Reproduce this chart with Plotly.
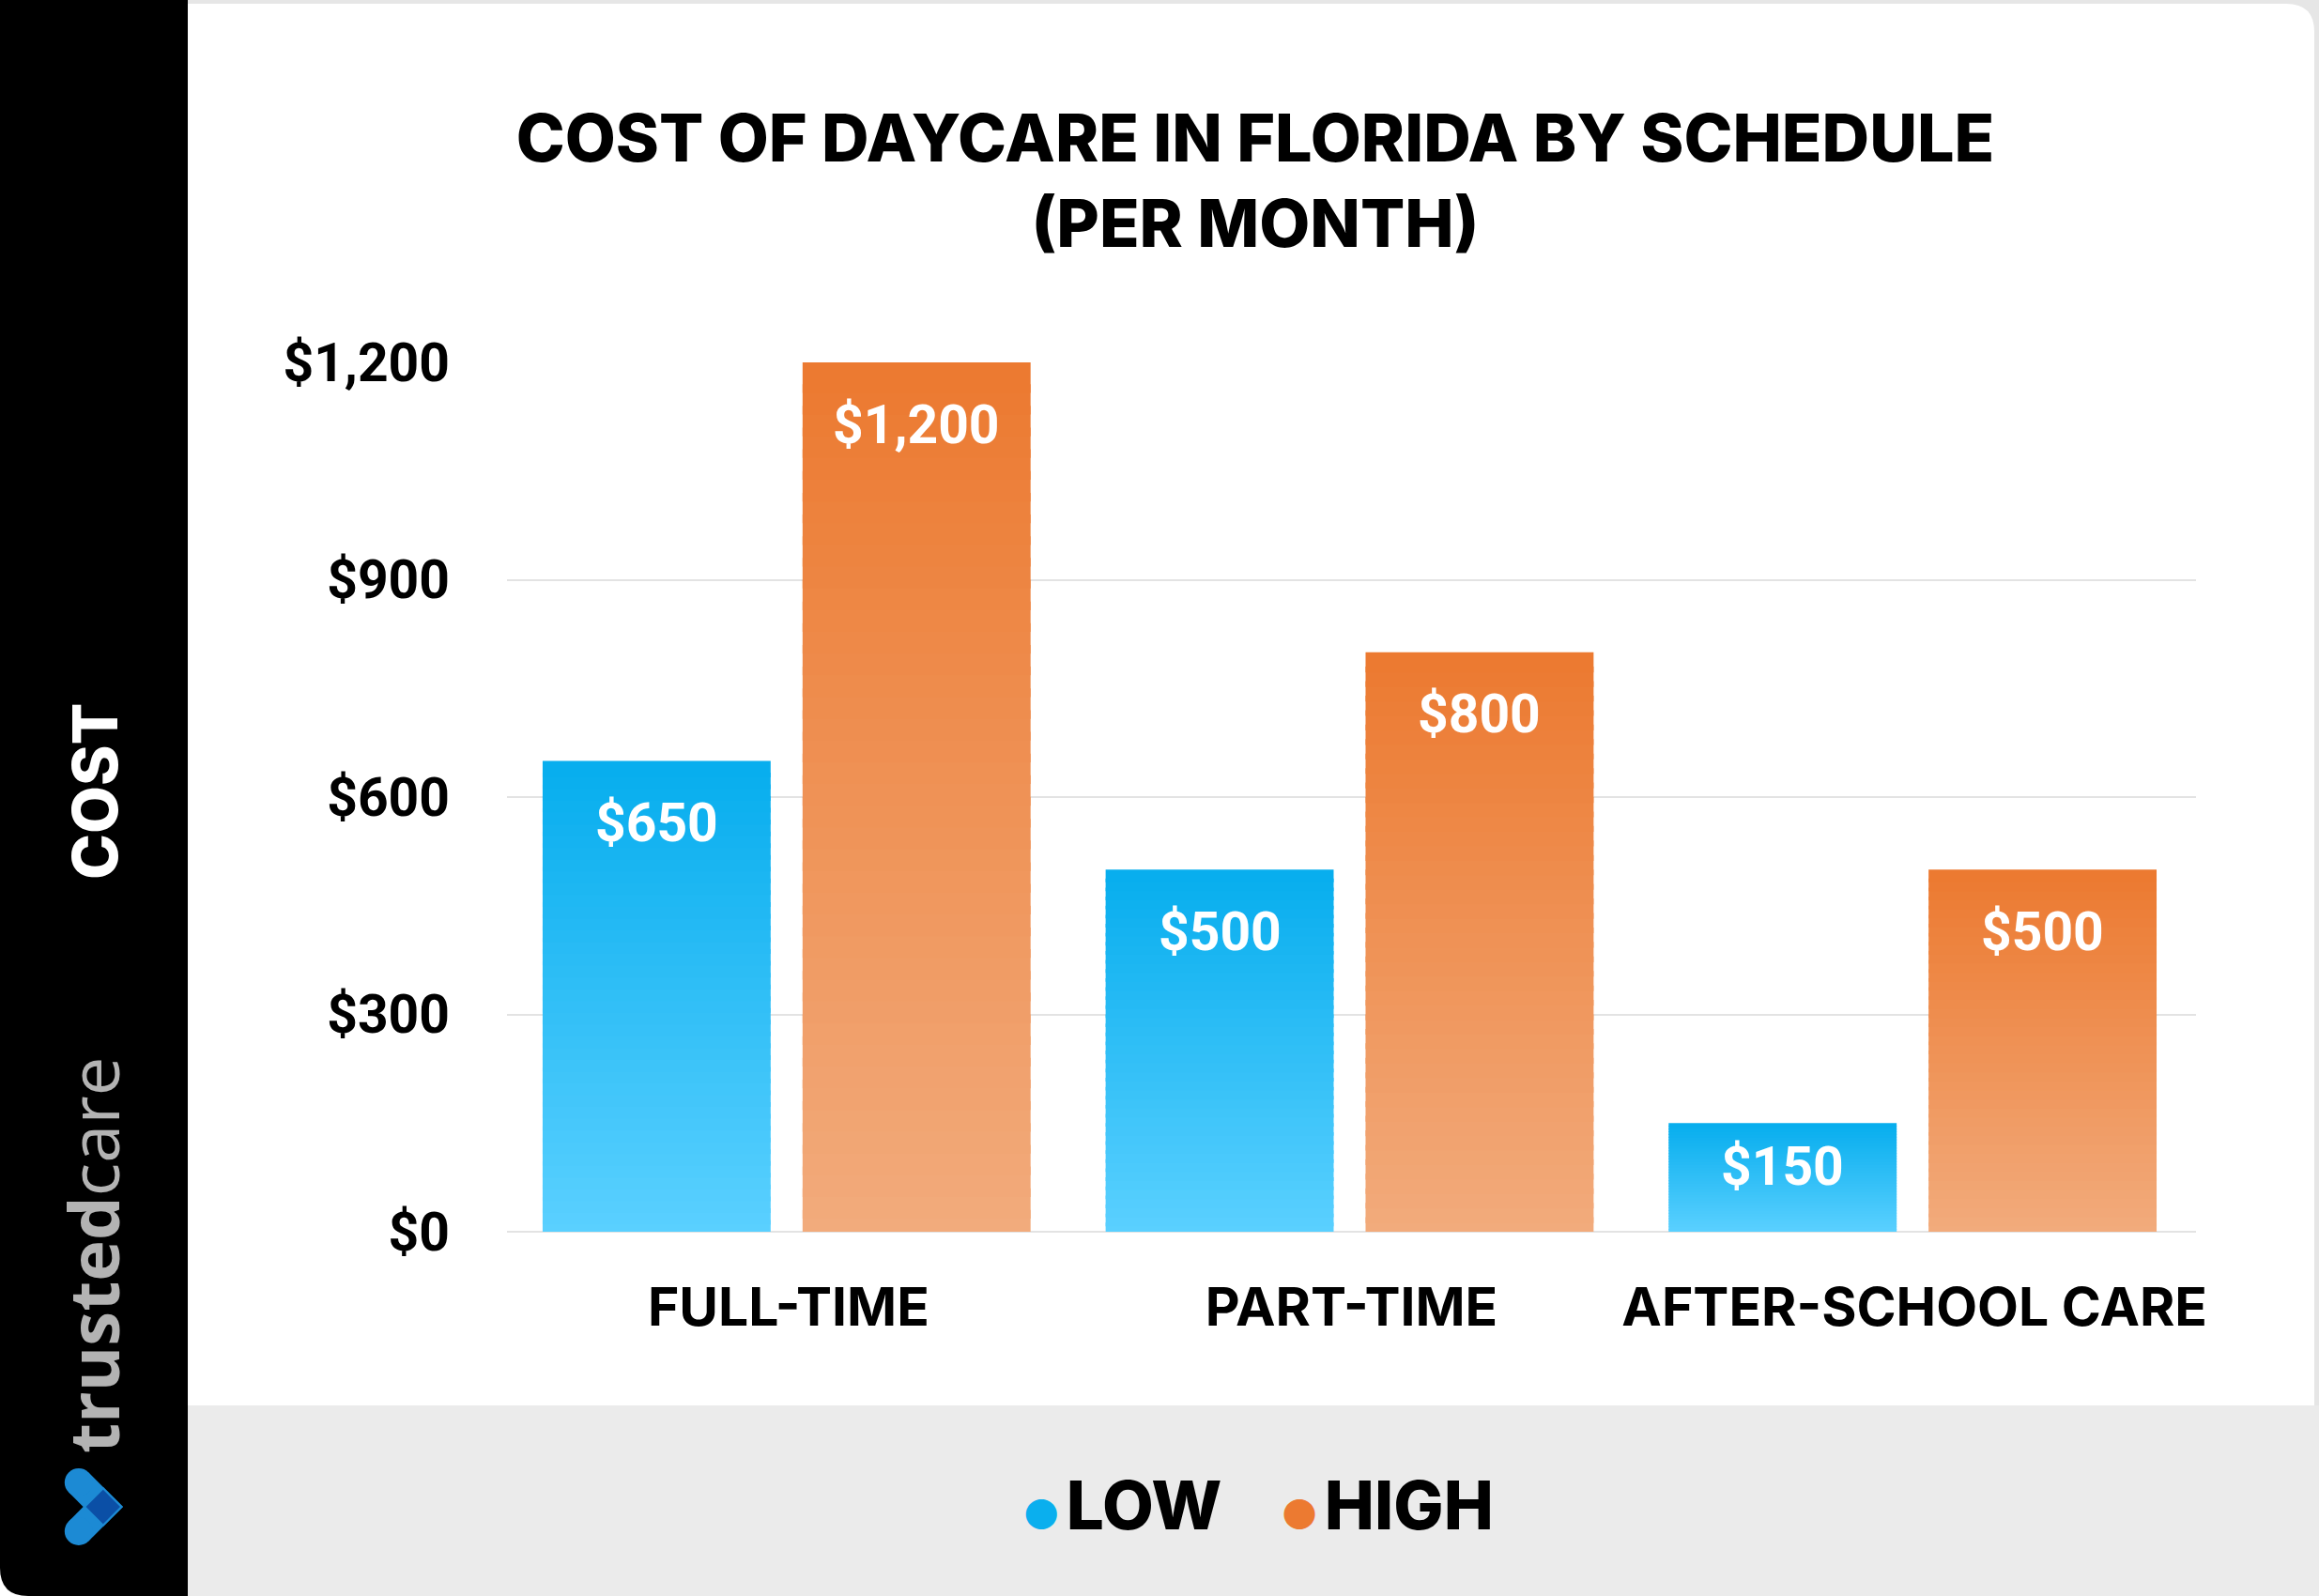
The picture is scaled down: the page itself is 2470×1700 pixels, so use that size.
import plotly.graph_objects as go

# ---------------- data ----------------
categories = ["FULL-TIME", "PART-TIME", "AFTER-SCHOOL CARE"]
low_values = [650, 500, 150]
high_values = [1200, 800, 500]
series_names = ["LOW", "HIGH"]
tick_values = [0, 300, 600, 900, 1200]
tick_labels = ["$0", "$300", "$600", "$900", "$1,200"]

# ---------------- geometry helpers (pixels -> paper) ----------------
W, H = 2470, 1700
def px(x):
    return x / W
def py(y):
    return 1 - y / H

X0, X1 = 540, 2339          # plot area left/right (px)
Y_ZERO, Y_TOP = 1312, 386   # y pixel of 0 and of 1200
Y_MAX = 1200
unit_px = (Y_ZERO - Y_TOP) / Y_MAX

BAR_W = 0.405
OFFSETS = {"LOW": -0.4367, "HIGH": 0.025}
COLORS = {
    "LOW": ((0x5A, 0xD0, 0xFF), (0x08, 0xAE, 0xEE)),   # bottom, top
    "HIGH": ((0xF2, 0xAB, 0x7C), (0xEC, 0x7A, 0x31)),
}
LEGEND_COLORS = {"LOW": "#0AAFEE", "HIGH": "#EC7A31"}

fig = go.Figure()

N = 40
def lerp(c0, c1, t):
    return "rgb(%d,%d,%d)" % tuple(round(a + (b - a) * t) for a, b in zip(c0, c1))

for name, vals in zip(series_names, [low_values, high_values]):
    c_bot, c_top = COLORS[name]
    for k in range(N):
        bases = [max(v * (k - 0.4) / N, 0) for v in vals]
        tops = [v * (k + 1) / N for v in vals]
        fig.add_trace(go.Bar(
            x=categories,
            y=[t - b for t, b in zip(tops, bases)],
            base=bases,
            width=BAR_W,
            offset=OFFSETS[name],
            marker=dict(color=lerp(c_bot, c_top, k / (N - 1)), line=dict(width=0)),
            showlegend=False,
            hoverinfo="skip",
        ))

# legend entries (coloured dot + label)
for name in series_names:
    fig.add_trace(go.Scatter(
        x=[None], y=[None], mode="markers",
        name=(f'<span style="font-size:44px;color:{LEGEND_COLORS[name]}">●</span>'
              f'<span style="font-size:30px"> </span>{name}'),
        marker=dict(symbol="circle", size=1, color="rgba(0,0,0,0)"),
    ))

# value labels
annotations = []
for name, vals in zip(series_names, [low_values, high_values]):
    for i, v in enumerate(vals):
        hpx = v * unit_px
        annotations.append(dict(
            x=i + OFFSETS[name] + BAR_W / 2, y=v, xref="x", yref="y",
            text=f"${v:,}", showarrow=False,
            yshift=-min(66, 0.4 * hpx), yanchor="middle",
            font=dict(family="Roboto", size=57, color="white", weight=700),
        ))

annotations.append(dict(
    x=px(101), y=py(843), xref="paper", yref="paper", text="COST",
    textangle=-90, showarrow=False, xanchor="center", yanchor="middle",
    font=dict(family="Inter", size=66, color="white", weight=800),
))
annotations.append(dict(
    x=px(98), y=py(1337), xref="paper", yref="paper",
    text="<b>trusted</b>care",
    textangle=-90, showarrow=False, xanchor="center", yanchor="middle",
    font=dict(family="Open Sans", size=74, color="#B3B3B3"),
))

# ---------------- decorative shapes ----------------
def P(x, y):
    return f"{px(x)},{py(y)}"

shapes = [
    dict(type="rect", xref="paper", yref="paper", x0=px(200), x1=px(2470), y0=py(0), y1=py(1700),
         fillcolor="#E6E6E6", line=dict(width=0), layer="below"),
    dict(type="path", xref="paper", yref="paper",
         path=f"M {P(200,4)} L {P(2435,4)} Q {P(2465,4)} {P(2465,34)} L {P(2465,1700)} L {P(200,1700)} Z",
         fillcolor="white", line=dict(width=0), layer="below"),
    dict(type="rect", xref="paper", yref="paper", x0=px(200), x1=px(2470), y0=py(1497), y1=py(1700),
         fillcolor="#EBEBEB", line=dict(width=0), layer="below"),
    dict(type="path", xref="paper", yref="paper",
         path=f"M {P(0,0)} L {P(200,0)} L {P(200,1700)} L {P(30,1700)} Q {P(0,1700)} {P(0,1670)} Z",
         fillcolor="black", line=dict(width=0), layer="below"),
]
# logo icon
light, dark = "#1C8AD4", "#0B4FA6"
shapes += [
    dict(type="path", xref="paper", yref="paper",
         path=f"M {P(73.2,1589.6)} L {P(94.4,1568.4)} L {P(131,1605)} L {P(109.8,1626.2)} Z",
         fillcolor=light, line=dict(width=0)),
    dict(type="circle", xref="paper", yref="paper", x0=px(68.8), x1=px(98.8), y0=py(1564), y1=py(1594),
         fillcolor=light, line=dict(width=0)),
    dict(type="path", xref="paper", yref="paper",
         path=f"M {P(73.2,1620.4)} L {P(94.4,1641.6)} L {P(131,1605)} L {P(109.8,1583.8)} Z",
         fillcolor=light, line=dict(width=0)),
    dict(type="circle", xref="paper", yref="paper", x0=px(68.8), x1=px(98.8), y0=py(1616), y1=py(1646),
         fillcolor=light, line=dict(width=0)),
    dict(type="path", xref="paper", yref="paper",
         path=f"M {P(128,1605)} L {P(109.8,1623.2)} L {P(91.6,1605)} L {P(109.8,1586.8)} Z",
         fillcolor=dark, line=dict(width=0)),
]

fig.update_layout(
    width=W, height=H, autosize=False,
    margin=dict(l=0, r=0, t=0, b=0, autoexpand=False),
    paper_bgcolor="white", plot_bgcolor="rgba(0,0,0,0)",
    barmode="overlay",
    title=dict(
        text="COST OF DAYCARE IN FLORIDA BY SCHEDULE<br>(PER MONTH)",
        x=px(1337), xanchor="center", y=py(172), yanchor="middle",
        font=dict(family="Inter", size=70, color="black", weight=800),
    ),
    xaxis=dict(
        domain=[px(X0), px(X1)], type="category", categoryorder="array", categoryarray=categories,
        range=[-0.5, 2.5], showgrid=False, showline=False, ticks="", ticklabelstandoff=42,
        automargin=False,
        tickfont=dict(family="Inter", size=57, color="black", weight=700),
    ),
    yaxis=dict(
        domain=[py(Y_ZERO), py(Y_TOP)], range=[0, Y_MAX],
        tickvals=tick_values, ticktext=tick_labels,
        showgrid=True, gridcolor="#E3E3E3", gridwidth=2,
        zeroline=True, zerolinecolor="#E3E3E3", zerolinewidth=2,
        showline=False, ticks="", ticklabelstandoff=60, automargin=False,
        tickfont=dict(family="Roboto", size=57, color="black", weight=700),
    ),
    legend=dict(
        orientation="h", x=px(1324), xanchor="center", y=py(1602), yanchor="middle",
        font=dict(family="Inter", size=71, color="black", weight=800),
        bgcolor="rgba(0,0,0,0)", itemwidth=30, entrywidth=230, entrywidthmode="pixels",
    ),
    annotations=annotations,
    shapes=shapes,
)

fig.write_html("out.html")
